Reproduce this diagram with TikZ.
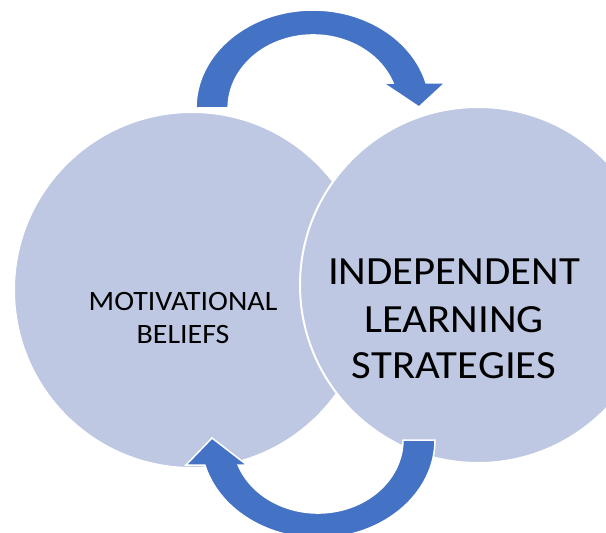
\documentclass[tikz,border=0pt]{standalone}
\usepackage{fontspec}
\setmainfont{Carlito}
\newfontfamily\labelfont[FakeStretch=1.07]{Carlito}
\definecolor{circfill}{RGB}{190,200,227}
\definecolor{arrowblue}{RGB}{68,114,196}
\begin{document}
\begin{tikzpicture}[x=1pt,y=-1pt,
 bubble/.style={circle, minimum size=356pt, inner sep=0pt, fill=circfill, draw=white, line width=2pt},
 cyclearrow/.style={fill=arrowblue, draw=white, line width=1.5pt, line join=miter},
 smalltext/.style={font=\labelfont\fontsize{28}{33}\selectfont, anchor=base, inner sep=0pt},
 bigtext/.style={font=\labelfont\fontsize{40}{47}\selectfont, anchor=base, inner sep=0pt}]
\useasboundingbox (0,0) rectangle (606,533);
\clip (0,0) rectangle (606,533);
\node[bubble] (mb) at (192,290) {};
\node[bubble] (ils) at (478,285) {};
% top arrow
\path[cyclearrow] (196,108) arc[start angle=180, end angle=345.2, x radius=117, y radius=98]
  -- (445,83) -- (419,107) -- (383,83) -- (393,83)
  arc[start angle=340, end angle=180, x radius=85, y radius=73] -- cycle;
% bottom arrow
\path[cyclearrow] (435,440) arc[start angle=0, end angle=165.2, x radius=117, y radius=98]
  -- (186,465) -- (212,438) -- (247,465) -- (238.1,465)
  arc[start angle=160, end angle=0, x radius=85, y radius=73] -- cycle;
\node[smalltext] (mot1) at (183,310) {MOTIVATIONAL};
\node[smalltext] (mot2) at (183,343) {BELIEFS};
\node[bigtext] (ind1) at (454,284) {INDEPENDENT};
\node[bigtext] (ind2) at (454,332) {LEARNING};
\node[bigtext] (ind3) at (454,378) {STRATEGIES};
\end{tikzpicture}
\end{document}
